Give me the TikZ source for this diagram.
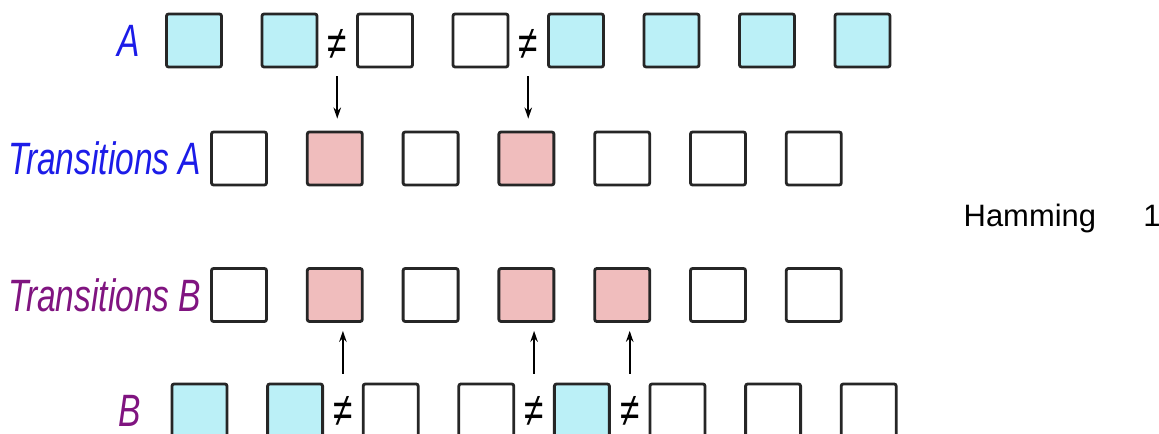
\documentclass[tikz,border=0pt]{standalone}
\usepackage{fontspec}
\setmainfont{Liberation Sans}
\newfontfamily\narrowfont{Liberation Sans}[FakeStretch=0.74]
\usepackage{tikz}
\usetikzlibrary{arrows.meta, positioning, calc}
\definecolor{cellcyan}{RGB}{187,240,247}
\definecolor{cellpink}{RGB}{240,189,189}
\definecolor{labelblue}{RGB}{28,28,232}
\definecolor{labelpurple}{RGB}{128,20,128}

\tikzset{
  cell/.style={draw=black!85, line width=0.8pt, rounded corners=0.6pt,
    minimum width=5.5mm, minimum height=5.3mm, inner sep=0pt},
  rowlabel/.style={font=\narrowfont\itshape\fontsize{12.9}{14}\selectfont, inner sep=0pt},
  neq/.style={font=\narrowfont\fontsize{13.5}{14}\selectfont, inner sep=0pt},
  arr/.style={-{Stealth[length=1.1mm, width=0.75mm]}, line width=0.5pt},
  hamtext/.style={font=\fontsize{8.8}{10}\selectfont, inner sep=0pt},
}

\begin{document}
\begin{tikzpicture}[x=0.1mm, y=-0.1mm]
    \useasboundingbox (0,0) rectangle (1159,434);
    \clip (0,0) rectangle (1159,434);

    % Row A
    \foreach \fillc [count=\i] in {cellcyan,cellcyan,white,white,cellcyan,cellcyan,cellcyan,cellcyan}
      \node[cell, fill=\fillc] (a\i) at ({194+95.5*(\i-1)}, 40.5) {};

    % Transitions A
    \foreach \fillc [count=\i] in {white,cellpink,white,cellpink,white,white,white}
      \node[cell, fill=\fillc] (ta\i) at ({239+95.8*(\i-1)}, 158.5) {};

    % Transitions B
    \foreach \fillc [count=\i] in {white,cellpink,white,cellpink,cellpink,white,white}
      \node[cell, fill=\fillc] (tb\i) at ({239+95.8*(\i-1)}, 295) {};

    % Row B
    \foreach \fillc [count=\i] in {cellcyan,cellcyan,white,white,cellcyan,white,white,white}
      \node[cell, fill=\fillc] (b\i) at ({199.5+95.6*(\i-1)}, 410.5) {};

    % Row labels
    \node[rowlabel, text=labelblue, left=2.5mm of a1] (lbla) {A};
    \node[rowlabel, text=labelblue, left=0.8mm of ta1] (lblta) {Transitions A};
    \node[rowlabel, text=labelpurple, left=0.8mm of tb1] (lbltb) {Transitions B};
    \node[rowlabel, text=labelpurple, left=2.9mm of b1] (lblb) {B};

    % Differences in A
    \node[neq] (neqa1) at ($(a2.east)!0.5!(a3.west)+(0,4)$) {≠};
    \node[neq] (neqa2) at ($(a4.east)!0.5!(a5.west)+(0,4)$) {≠};

    % Differences in B
    \node[neq] (neqb1) at ($(b2.east)!0.5!(b3.west)+(0,1)$) {≠};
    \node[neq] (neqb2) at ($(b4.east)!0.5!(b5.west)+(0,1)$) {≠};
    \node[neq] (neqb3) at ($(b5.east)!0.5!(b6.west)+(0,1)$) {≠};

    % Arrows down to transitions A
    \draw[arr, shorten <=0.8mm, shorten >=1.2mm] (neqa1 |- a3.south) -- (neqa1 |- ta2.north);
    \draw[arr, shorten <=0.8mm, shorten >=1.2mm] (neqa2 |- a5.south) -- (neqa2 |- ta4.north);

    % Arrows up to transitions B
    \draw[arr, shorten <=0.9mm, shorten >=0.8mm] (neqb1 |- b3.north) -- (neqb1 |- tb2.south);
    \draw[arr, shorten <=0.9mm, shorten >=0.8mm] (neqb2 |- b5.north) -- (neqb2 |- tb4.south);
    \draw[arr, shorten <=0.9mm, shorten >=0.8mm] (neqb3 |- b6.north) -- (neqb3 |- tb5.south);

    % Distance
    \node[hamtext, anchor=base west] (ham) at (963, 227) {Hamming};
    \node[hamtext, anchor=base west] (hamval) at ([xshift=4.6mm]ham.base east) {1};
  \end{tikzpicture}
\end{document}
